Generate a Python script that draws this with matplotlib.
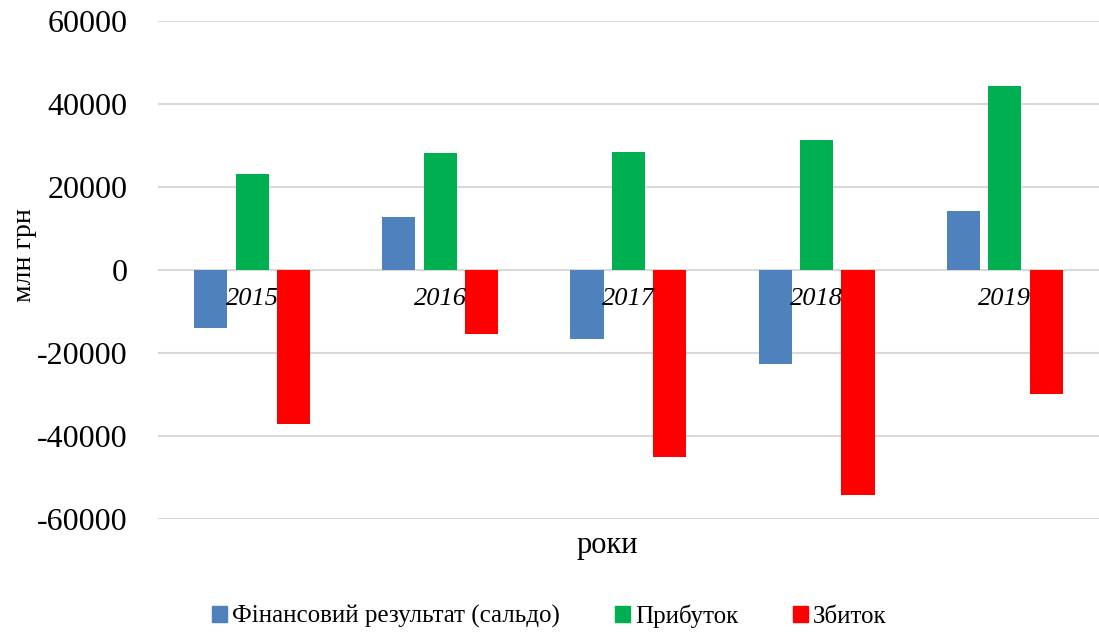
import numpy as np
import matplotlib.pyplot as plt
from matplotlib.patches import Patch

years = ['2015', '2016', '2017', '2018', '2019']
saldo = [-14000, 12800, -16600, -22700, 14200]
profit = [23100, 28200, 28400, 31300, 44300]
loss = [-37100, -15500, -45100, -54200, -30000]

series_names = ['Фінансовий результат (сальдо)', 'Прибуток', 'Збиток']
colors = ['#4F81BD', '#00B050', '#FF0000']

plt.rcParams['font.family'] = ['Liberation Serif', 'DejaVu Serif']
plt.rcParams['axes.unicode_minus'] = False

fig = plt.figure(figsize=(10.99, 6.34), dpi=100)
ax = fig.add_axes([0.1438, 0.1814, 0.856, 0.7855])

x = np.arange(len(years))
w = 0.176
step = 0.22
for i, (vals, c) in enumerate(zip([saldo, profit, loss], colors)):
    ax.bar(x + (i - 1) * step, vals, width=w, color=c, zorder=3)

ax.set_xlim(-0.5, len(years) - 0.5)
ax.set_ylim(-60000, 60000)
ax.set_yticks(np.arange(-60000, 60001, 20000))
ax.tick_params(axis='y', labelsize=23, length=0, pad=22)
ax.set_xticks([])
ax.grid(axis='y', color='#D9D9D9', linewidth=1.5, zorder=0)
for s in ax.spines.values():
    s.set_visible(False)

# year labels sit just below the zero line
for xi, yr in zip(x, years):
    ax.annotate(yr, (xi, 0), xytext=(0, -13), textcoords='offset points',
                ha='center', va='top', fontsize=19, style='italic', zorder=4)

fig.text(0.022, 0.598, 'млн грн', rotation=90, ha='center', va='center', fontsize=20)
fig.text(0.553, 0.139, 'роки', ha='center', va='center', fontsize=22)

handles = [Patch(color=c) for c in colors]
fig.legend(handles, series_names, loc='center', bbox_to_anchor=(0.5, 0.028),
           ncol=3, frameon=False, fontsize=18, handlelength=0.6, handleheight=0.6,
           handletextpad=0.2, columnspacing=2.2)

fig.savefig('out.png', dpi=100)
